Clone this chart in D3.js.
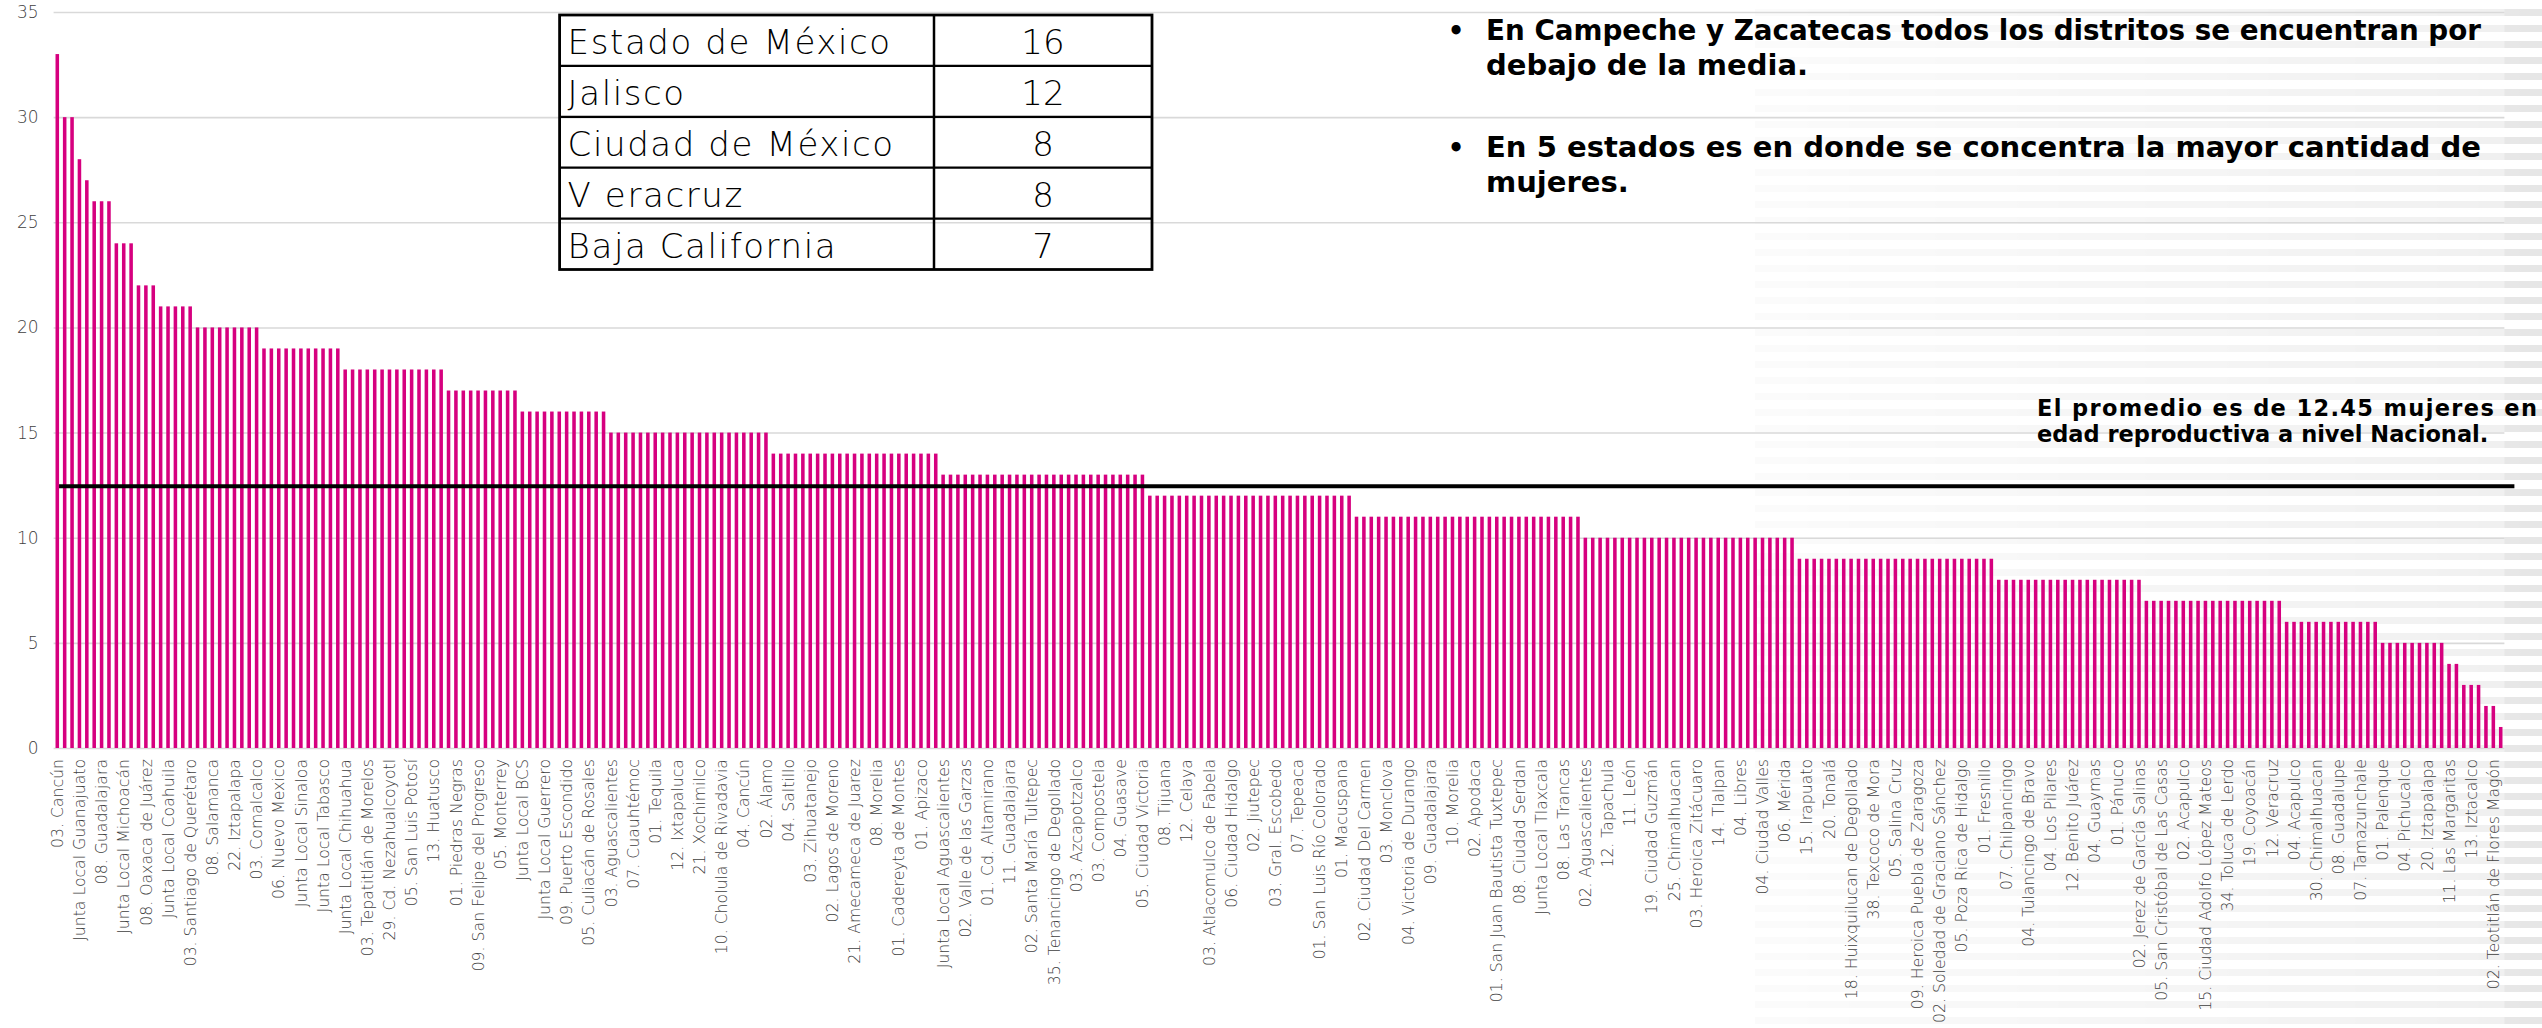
<!DOCTYPE html>
<html>
<head>
<meta charset="utf-8">
<script src="https://cdn.jsdelivr.net/npm/d3@7/dist/d3.min.js"></script>
<style>
    body { margin: 0; background: #fff; }
    svg { display: block; }
    .tick-label { font-family: "DejaVu Sans", sans-serif; font-weight: 200; fill: #3f3f3f; }
    .note { font-family: "DejaVu Sans", sans-serif; font-weight: bold; fill: #000; }
    .cell { font-family: "DejaVu Sans", sans-serif; font-weight: 200; fill: #000; }
</style>
</head>
<body>
<svg id="chart" width="2542" height="1028"></svg>
<script>
// mujeres en edad reproductiva por distrito, ordenado de mayor a menor
const values = [
    33, 30, 30, 28, 27, 26, 26, 26, 24, 24, 24, 22, 22, 22, 21, 21, 21, 21, 21,
    20, 20, 20, 20, 20, 20, 20, 20, 20,
    19, 19, 19, 19, 19, 19, 19, 19, 19, 19, 19,
    18, 18, 18, 18, 18, 18, 18, 18, 18, 18, 18, 18, 18, 18,
    17, 17, 17, 17, 17, 17, 17, 17, 17, 17,
    16, 16, 16, 16, 16, 16, 16, 16, 16, 16, 16, 16,
    15, 15, 15, 15, 15, 15, 15, 15, 15, 15, 15, 15, 15, 15, 15, 15, 15, 15, 15, 15, 15, 15,
    14, 14, 14, 14, 14, 14, 14, 14, 14, 14, 14, 14, 14, 14, 14, 14, 14, 14, 14, 14, 14, 14, 14,
    13, 13, 13, 13, 13, 13, 13, 13, 13, 13, 13, 13, 13, 13, 13, 13, 13, 13, 13, 13, 13, 13, 13, 13, 13, 13, 13, 13,
    12, 12, 12, 12, 12, 12, 12, 12, 12, 12, 12, 12, 12, 12, 12, 12, 12, 12, 12, 12, 12, 12, 12, 12, 12, 12, 12, 12,
    11, 11, 11, 11, 11, 11, 11, 11, 11, 11, 11, 11, 11, 11, 11, 11, 11, 11, 11, 11, 11, 11, 11, 11, 11, 11, 11, 11, 11, 11, 11,
    10, 10, 10, 10, 10, 10, 10, 10, 10, 10, 10, 10, 10, 10, 10, 10, 10, 10, 10, 10, 10, 10, 10, 10, 10, 10, 10, 10, 10,
    9, 9, 9, 9, 9, 9, 9, 9, 9, 9, 9, 9, 9, 9, 9, 9, 9, 9, 9, 9, 9, 9, 9, 9, 9, 9, 9,
    8, 8, 8, 8, 8, 8, 8, 8, 8, 8, 8, 8, 8, 8, 8, 8, 8, 8, 8, 8,
    7, 7, 7, 7, 7, 7, 7, 7, 7, 7, 7, 7, 7, 7, 7, 7, 7, 7, 7,
    6, 6, 6, 6, 6, 6, 6, 6, 6, 6, 6, 6, 6,
    5, 5, 5, 5, 5, 5, 5, 5, 5,
    4, 4,
    3, 3, 3,
    2, 2,
    1
];

// only every third district is labelled on the axis
const tickLabels = [
    "03. Cancún", "Junta Local Guanajuato", "08. Guadalajara", "Junta Local Michoacán",
    "08. Oaxaca de Juárez", "Junta Local Coahuila", "03. Santiago de Querétaro", "08. Salamanca",
    "22. Iztapalapa", "03. Comalcalco", "06. Nuevo Mexico", "Junta Local Sinaloa",
    "Junta Local Tabasco", "Junta Local Chihuahua", "03. Tepatitlán de Morelos", "29. Cd. Nezahualcoyotl",
    "05. San Luis Potosí", "13. Huatusco", "01. Piedras Negras", "09. San Felipe del Progreso",
    "05. Monterrey", "Junta Local BCS", "Junta Local Guerrero", "09. Puerto Escondido",
    "05. Culiacán de Rosales", "03. Aguascalientes", "07. Cuauhtémoc", "01. Tequila",
    "12. Ixtapaluca", "21. Xochimilco", "10. Cholula de Rivadavia", "04. Cancún",
    "02. Álamo", "04. Saltillo", "03. Zihuatanejo", "02. Lagos de Moreno",
    "21. Amecameca de Juarez", "08. Morelia", "01. Cadereyta de Montes", "01. Apizaco",
    "Junta Local Aguascalientes", "02. Valle de las Garzas", "01. Cd. Altamirano", "11. Guadalajara",
    "02. Santa María Tultepec", "35. Tenancingo de Degollado", "03. Azcapotzalco", "03. Compostela",
    "04. Guasave", "05. Ciudad Victoria", "08. Tijuana", "12. Celaya",
    "03. Atlacomulco de Fabela", "06. Ciudad Hidalgo", "02. Jiutepec", "03. Gral. Escobedo",
    "07. Tepeaca", "01. San Luis Río Colorado", "01. Macuspana", "02. Ciudad Del Carmen",
    "03. Monclova", "04. Victoria de Durango", "09. Guadalajara", "10. Morelia",
    "02. Apodaca", "01. San Juan Bautista Tuxtepec", "08. Ciudad Serdan", "Junta Local Tlaxcala",
    "08. Las Trancas", "02. Aguascalientes", "12. Tapachula", "11. León",
    "19. Ciudad Guzmán", "25. Chimalhuacan", "03. Heroica Zitácuaro", "14. Tlalpan",
    "04. Libres", "04. Ciudad Valles", "06. Mérida", "15. Irapuato",
    "20. Tonalá", "18. Huixquilucan de Degollado", "38. Texcoco de Mora", "05. Salina Cruz",
    "09. Heroica Puebla de Zaragoza", "02. Soledad de Graciano Sánchez", "05. Poza Rica de Hidalgo", "01. Fresnillo",
    "07. Chilpancingo", "04. Tulancingo de Bravo", "04. Los Pilares", "12. Benito Juárez",
    "04. Guaymas", "01. Pánuco", "02. Jerez de García Salinas", "05. San Cristóbal de Las Casas",
    "02. Acapulco", "15. Ciudad Adolfo López Mateos", "34. Toluca de Lerdo", "19. Coyoacán",
    "12. Veracruz", "04. Acapulco", "30. Chimalhuacan", "08. Guadalupe",
    "07. Tamazunchale", "01. Palenque", "04. Pichucalco", "20. Iztapalapa",
    "11. Las Margaritas", "13. Iztacalco", "02. Teotitlán de Flores Magón"
];

const yTicks = [0, 5, 10, 15, 20, 25, 30, 35];
const nationalMean = [12.45];

const tableStates = ["Estado de México", "Jalisco", "Ciudad de México", "V eracruz", "Baja California"];
const tableCounts = [16, 12, 8, 8, 7];

const bullets = [
    ["En Campeche y Zacatecas todos los distritos se encuentran por", "debajo de la media."],
    ["En 5 estados es en donde se concentra la mayor cantidad de", "mujeres."]
];
const meanNote = ["El promedio es de 12.45 mujeres en", "edad reproductiva a nivel Nacional."];

const svg = d3.select("#chart");
const plot = {left: 53.6, right: 2504.4, top: 12, bottom: 748};

// ---- slide background: grey stripes fading in on the right ----
const defs = svg.append("defs");
const stripes = defs.append("pattern")
    .attr("id", "stripes")
    .attr("patternUnits", "userSpaceOnUse")
    .attr("width", 40).attr("height", 16);
stripes.append("rect").attr("width", 40).attr("height", 16).attr("fill", "#fff");
stripes.append("rect").attr("y", 9).attr("width", 40).attr("height", 7).attr("fill", "#e6e6e6");

const fade = defs.append("linearGradient").attr("id", "fade");
fade.append("stop").attr("offset", "0").attr("stop-color", "#fff").attr("stop-opacity", 0.25);
fade.append("stop").attr("offset", "1").attr("stop-color", "#fff").attr("stop-opacity", 1);
defs.append("mask").attr("id", "fadeMask")
    .append("rect")
    .attr("x", 1755).attr("y", 0).attr("width", 2542 - 1755).attr("height", 1028)
    .attr("fill", "url(#fade)");

svg.append("rect")
    .attr("x", 1755).attr("y", 0).attr("width", 2542 - 1755).attr("height", 1028)
    .attr("fill", "url(#stripes)")
    .attr("mask", "url(#fadeMask)");

// chart area is drawn with a translucent white fill over the stripes
svg.append("rect")
    .attr("x", 0).attr("y", 0).attr("width", plot.right).attr("height", 1028)
    .attr("fill", "#fff").attr("fill-opacity", 0.4);

// ---- scales ----
const x = d3.scaleBand()
    .domain(d3.range(values.length))
    .range([plot.left, plot.right])
    .paddingInner(0.52)
    .paddingOuter(0.26);

const y = d3.scaleLinear()
    .domain([0, 35])
    .range([plot.bottom, plot.top]);

// ---- gridlines + y labels ----
const yAxis = svg.append("g")
    .attr("transform", `translate(${plot.left},0)`)
    .call(d3.axisLeft(y).tickValues(yTicks).tickSize(-(plot.right - plot.left)).tickPadding(15));
yAxis.select(".domain").remove();
yAxis.selectAll(".tick line").attr("stroke", "#d9d9d9").attr("stroke-width", 1.6);
yAxis.selectAll(".tick text")
    .attr("class", "tick-label")
    .style("font-size", "17px");

// ---- bars ----
svg.append("g")
    .selectAll("rect")
    .data(values)
    .enter()
    .append("rect")
    .attr("x", (d, i) => x(i))
    .attr("y", d => y(d))
    .attr("width", x.bandwidth())
    .attr("height", d => y(0) - y(d))
    .attr("fill", "#d6007f");

// ---- x axis labels ----
const labelled = d3.range(0, values.length, 3);
const xAxis = svg.append("g")
    .attr("transform", `translate(0,${plot.bottom})`)
    .call(d3.axisBottom(x)
        .tickValues(labelled)
        .tickFormat((d, i) => tickLabels[i])
        .tickSize(0));
xAxis.select(".domain").remove();
xAxis.selectAll(".tick text")
    .attr("class", "tick-label")
    .style("font-size", "15.7px")
    .attr("text-anchor", "end")
    .attr("transform", "rotate(-90)")
    .attr("x", -11)
    .attr("y", 0)
    .attr("dy", "0.36em");

// ---- national mean line ----
svg.append("g")
    .selectAll("line")
    .data(nationalMean)
    .enter()
    .append("line")
    .attr("x1", x(0) + x.bandwidth())
    .attr("x2", plot.right + 10)
    .attr("y1", d => y(d))
    .attr("y2", d => y(d))
    .attr("stroke", "#000")
    .attr("stroke-width", 4);

// ---- table of states ----
const table = {left: 559.6, mid: 934, right: 1152, top: 15, rowH: 50.9};
const tbl = svg.append("g");
tbl.selectAll(".state")
    .data(tableStates)
    .enter()
    .append("text")
    .attr("class", "cell")
    .attr("x", table.left + 8)
    .attr("y", (d, i) => table.top + i * table.rowH + 39)
    .style("font-size", "34px")
    .style("letter-spacing", "1.6px")
    .text(d => d);
tbl.selectAll(".count")
    .data(tableCounts)
    .enter()
    .append("text")
    .attr("class", "cell")
    .attr("x", (table.mid + table.right) / 2)
    .attr("y", (d, i) => table.top + i * table.rowH + 39)
    .attr("text-anchor", "middle")
    .style("font-size", "34px")
    .text(d => d);
tbl.selectAll(".rowline")
    .data(d3.range(1, tableStates.length))
    .enter()
    .append("line")
    .attr("x1", table.left).attr("x2", table.right)
    .attr("y1", d => table.top + d * table.rowH)
    .attr("y2", d => table.top + d * table.rowH)
    .attr("stroke", "#000").attr("stroke-width", 2.2);
tbl.append("line")
    .attr("x1", table.mid).attr("x2", table.mid)
    .attr("y1", table.top).attr("y2", table.top + tableStates.length * table.rowH)
    .attr("stroke", "#000").attr("stroke-width", 2.5);
tbl.append("rect")
    .attr("x", table.left).attr("y", table.top)
    .attr("width", table.right - table.left)
    .attr("height", tableStates.length * table.rowH)
    .attr("fill", "none").attr("stroke", "#000").attr("stroke-width", 2.8);

// ---- bullet notes ----
const notes = svg.append("g");
const bulletTop = [40, 157];
bullets.forEach((lines, b) => {
    notes.append("text")
        .attr("class", "note")
        .attr("x", 1456).attr("y", bulletTop[b])
        .attr("text-anchor", "middle")
        .style("font-size", "26px")
        .text("•");
    lines.forEach((line, j) => {
        const t = notes.append("text")
            .attr("class", "note")
            .attr("x", 1486)
            .attr("y", bulletTop[b] + j * 35)
            .style("font-size", "29px")
            .text(line);
        if (j === 0) t.attr("textLength", 995).attr("lengthAdjust", "spacingAndGlyphs");
    });
});

// ---- mean annotation ----
meanNote.forEach((line, j) => {
    const t = notes.append("text")
        .attr("class", "note")
        .attr("x", 2037)
        .attr("y", 416 + j * 26)
        .style("font-size", "22.5px")
        .text(line);
    if (j === 0) t.attr("textLength", 500).attr("lengthAdjust", "spacing");
});
</script>
</body>
</html>
